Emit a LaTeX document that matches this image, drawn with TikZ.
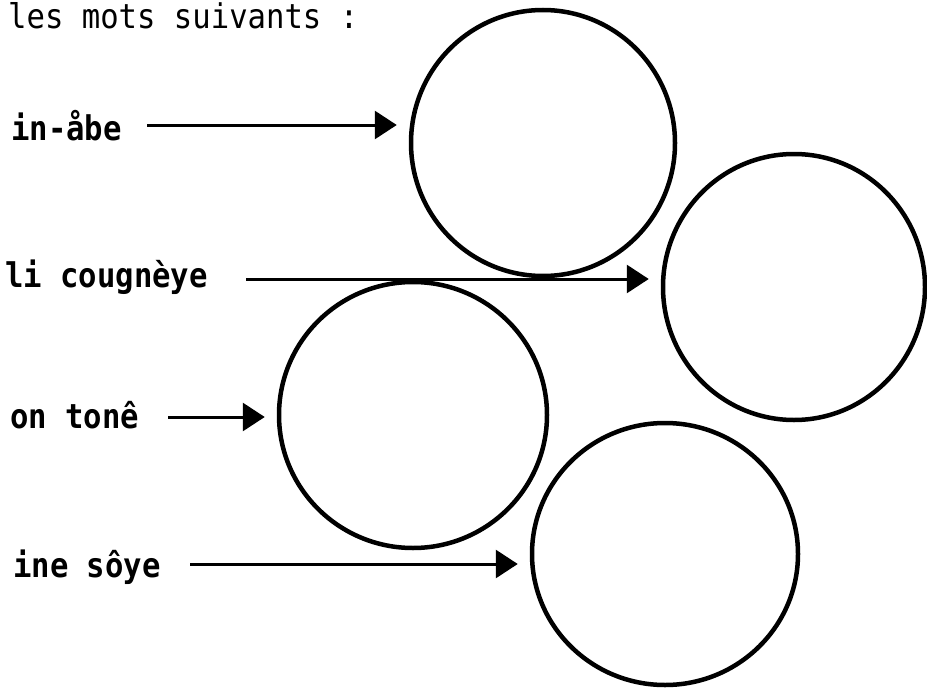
\documentclass[tikz,border=0pt]{standalone}
\usepackage{fontspec}
\setmonofont{DejaVu Sans Mono}
\newfontfamily\labfont[FakeStretch=0.9]{DejaVu Sans Mono}
\usetikzlibrary{arrows.meta,shapes.geometric}
\begin{document}
\begin{tikzpicture}[x=1pt,y=-1pt,
  ring/.style={draw, ellipse, line width=4.5pt, inner sep=0pt},
  lab/.style={anchor=base west, inner sep=0pt, font=\labfont\bfseries\fontsize{34}{40}\selectfont},
  head/.style={anchor=base west, inner sep=0pt, font=\labfont\fontsize{34}{40}\selectfont},
  arr/.style={line width=3pt, -{Triangle[length=22pt,width=28pt]}, shorten >=12pt}]
\useasboundingbox (0,0) rectangle (927,688);
\node[head] (t) at (8,28) {les mots suivants :};
% circles
\node[ring, minimum width=264pt, minimum height=266pt] (c1) at (543,143) {};
\node[ring, minimum width=262pt, minimum height=266pt] (c2) at (794,287) {};
\node[ring, minimum width=268pt, minimum height=266pt] (c3) at (413,415) {};
\node[ring, minimum width=266pt, minimum height=262pt] (c4) at (665,554) {};
% labels
\node[lab] (l1) at (11,140) {in-åbe};
\node[lab] (l2) at (5,287) {li cougnèye};
\node[lab] (l3) at (10,428) {on tonê};
\node[lab] (l4) at (13,577) {ine sôye};
% arrow starts
\coordinate (s1) at (147,125);
\coordinate (s2) at (246,279);
\coordinate (s3) at (168,417);
\coordinate (s4) at (190,564);
\draw[arr] (s1) -- (s1 -| c1.west);
\draw[arr] (s2) -- (s2 -| c2.west);
\draw[arr] (s3) -- (s3 -| c3.west);
\draw[arr] (s4) -- (s4 -| c4.west);
\end{tikzpicture}
\end{document}
